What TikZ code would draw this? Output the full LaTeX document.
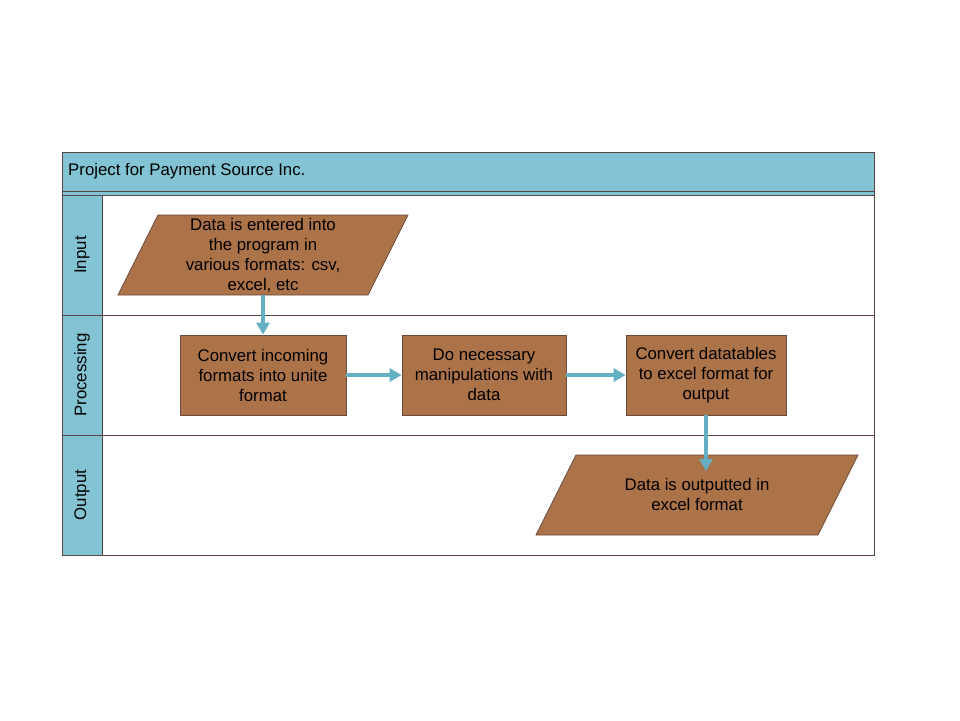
\documentclass[tikz,border=0pt]{standalone}
\usepackage{fontspec}
\setmainfont{Liberation Sans}
\usetikzlibrary{arrows.meta}
\definecolor{laneblue}{HTML}{82C4D4}
\definecolor{boxbrown}{HTML}{AC7248}
\definecolor{edgebrown}{HTML}{6B4A3C}
\definecolor{framecol}{HTML}{5A4440}
\definecolor{arrowblue}{HTML}{64AFC2}
\tikzset{
  frame/.style={draw=framecol, line width=1pt},
  procbox/.style={draw=edgebrown, fill=boxbrown, line width=0.8pt, minimum width=166pt, minimum height=80pt, align=center, font=\fontsize{16.8}{20}\selectfont, inner sep=0pt},
  ioshape/.style={draw=edgebrown, fill=boxbrown, line width=0.8pt},
  iotext/.style={align=center, font=\fontsize{16.8}{20}\selectfont, inner sep=0pt},
  flow/.style={draw=arrowblue, line width=4pt, -{Triangle[length=12pt,width=13pt]}},
  lanelabel/.style={rotate=90, font=\fontsize{16.8}{20}\selectfont, inner sep=0pt},
}
\begin{document}
\begin{tikzpicture}[x=1pt,y=-1pt]
\useasboundingbox[fill=white] (0,0) rectangle (960,720);
% header
\fill[laneblue] (62,152) rectangle (874,195);
\draw[frame] (62,152) rectangle (874,195);
\draw[frame] (62,191) -- (874,191);
\node[anchor=west, font=\fontsize{16.8}{20}\selectfont, inner sep=0pt] (title) at (68,171) {Project for Payment Source Inc.};
% lanes
\fill[laneblue] (62,195) rectangle (102,555);
\draw[frame] (62,195) rectangle (874,555);
\draw[frame] (102,195) -- (102,555);
\draw[frame] (62,315) -- (874,315);
\draw[frame] (62,435) -- (874,435);
\node[lanelabel] (linput) at (82,255) {Input};
\node[lanelabel] (lproc) at (82,375) {Processing};
\node[lanelabel] (lout) at (82,495) {Output};
% input parallelogram
\draw[ioshape] (158,215) -- (408,215) -- (368,295) -- (118,295) -- cycle;
\node[iotext, minimum width=250pt, minimum height=80pt] (inp) at (263,255) {Data is entered into\\the program in\\various formats: csv,\\excel, etc};
% process boxes
\node[procbox] (b1) at (263,375) {Convert incoming\\formats into unite\\format};
\node[procbox, minimum width=164pt] (b2) at (484,375) {Do necessary\\manipulations with\\data};
\node[procbox, minimum width=160pt] (b3) at (706,375) {Convert datatables\\to excel format for\\output};
% output parallelogram
\draw[ioshape] (576,455) -- (858,455) -- (818,535) -- (536,535) -- cycle;
\node[iotext, minimum width=242pt, minimum height=80pt] (outp) at (697,494) {Data is outputted in\\excel format};
\coordinate (outin) at (706,471);
% connectors
\draw[flow] (inp.south) -- (b1.north);
\draw[flow] (b1.east) -- (b2.west);
\draw[flow] (b2.east) -- (b3.west);
\draw[flow] (b3.south) -- (outin);
\end{tikzpicture}
\end{document}
